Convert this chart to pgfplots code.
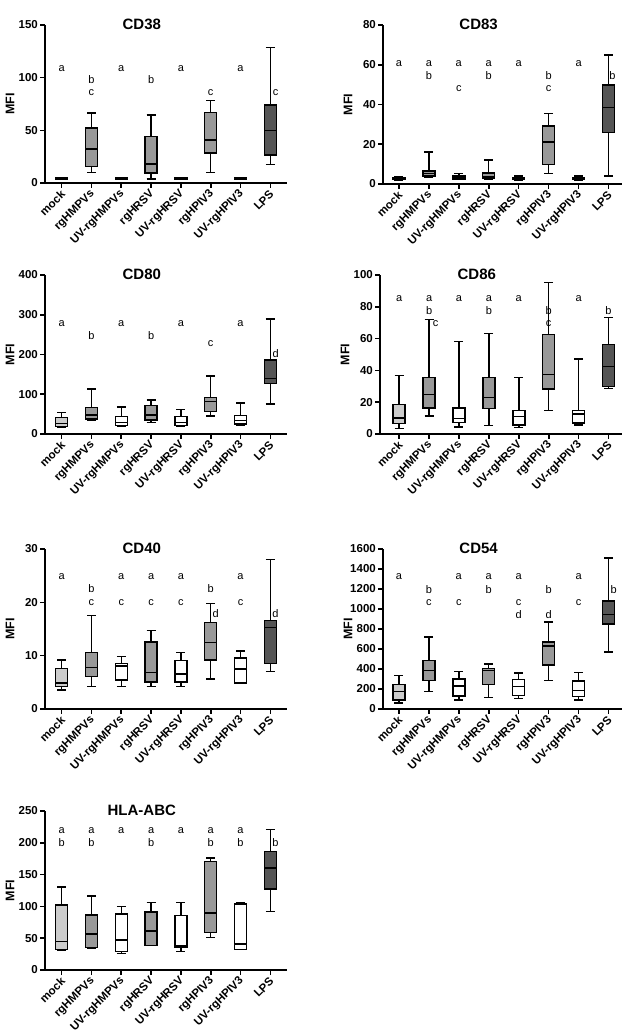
\documentclass[border=0pt]{standalone}
\usepackage{pgfplots}
\pgfplotsset{compat=1.18}
\usepgfplotslibrary{statistics}
\usepackage{fontspec}
\setmainfont{Liberation Sans}
\definecolor{mockc}{HTML}{CCCCCC}
\definecolor{rgc}{HTML}{999999}
\definecolor{uvc}{HTML}{FFFFFF}
\definecolor{lpsc}{HTML}{555555}
\tikzset{lett/.style={font=\fontsize{11}{12}\selectfont, inner sep=0pt, anchor=center}}
\pgfplotsset{
  panel/.style={
    scale only axis,
    axis lines=left,
    axis line style={-, line width=1.6pt},
    anchor=south west,
    xmin=-0.56, xmax=7.56,
    xtick={0,...,7},
    xticklabels={mock,rgHMPVs,UV-rgHMPVs,rgHRSV,UV-rgHRSV,rgHPIV3,UV-rgHPIV3,LPS},
    xticklabel style={rotate=45, anchor=east, font=\bfseries\fontsize{11.5}{12}\selectfont, inner sep=1pt, yshift=-4pt, xshift=-1pt},
    /pgf/number format/assume math mode=true,
    /pgf/number format/1000 sep={},
    yticklabel={\bfseries\pgfmathprintnumber{\tick}},
    yticklabel style={font=\bfseries\fontsize{11.5}{12}\selectfont, inner sep=2pt},
    scaled y ticks=false,
    tick align=outside,
    major tick length=5pt,
    tick style={line width=1.6pt, black},
    ylabel={MFI},
    ylabel style={at={([xshift=-35pt]axis description cs:0,0.5)}, anchor=center, font=\bfseries\fontsize{12.5}{13}\selectfont},
    title style={at={(axis description cs:0.4,1)}, anchor=center, yshift=-5pt, font=\bfseries\fontsize{15}{16}\selectfont},
    boxplot/draw direction=y,
    boxplot/box extend=0.4,
    boxplot/whisker extend=0.3,
    clip=false,
  },
  mockb/.style={draw=black, line width=1.5pt, fill=mockc},
  rgb/.style={draw=black, line width=1.5pt, fill=rgc},
  uvb/.style={draw=black, line width=1.5pt, fill=uvc},
  lpsb/.style={draw=black, line width=1.5pt, fill=lpsc},
}
\newcommand{\bx}[7]{\addplot[#7, boxplot prepared={draw position=#1, lower whisker=#2, lower quartile=#3, median=#4, upper quartile=#5, upper whisker=#6}] coordinates {};}
\newcommand{\lt}[3]{\node[lett] at (axis cs:#1,#2) {#3};}
\begin{document}
\begin{tikzpicture}[x=1pt,y=1pt]
\useasboundingbox (0,0) rectangle (634,1035);
% ---------- CD38
\begin{axis}[panel, at={(45pt,852pt)}, width=242pt, height=158pt, ymin=0, ymax=150, ytick={0,50,100,150}, title={CD38}]
\bx{0}{3.2}{3.6}{4.1}{4.6}{5.2}{mockb}
\bx{1}{10.1}{15.8}{32.5}{52.1}{66.3}{rgb}
\bx{2}{3.2}{3.6}{4.1}{4.6}{5.2}{uvb}
\bx{3}{3.8}{9.5}{18}{43.9}{64.7}{rgb}
\bx{4}{3.2}{3.6}{4.1}{4.6}{5.2}{uvb}
\bx{5}{10.1}{28.4}{40.7}{66.9}{78.3}{rgb}
\bx{6}{3.2}{3.6}{4.1}{4.6}{5.2}{uvb}
\bx{7}{17.4}{26.8}{49.9}{74.2}{128.5}{lpsb}
\lt{0}{109}{a}
\lt{1}{98}{b}\lt{1}{86}{c}
\lt{2}{109}{a}
\lt{3}{98}{b}
\lt{4}{109}{a}
\lt{5}{86}{c}
\lt{6}{109}{a}
\lt{7.18}{86}{c}
\end{axis}
% ---------- CD83
\begin{axis}[panel, at={(383pt,851pt)}, width=239pt, height=159pt, xmin=-0.53, xmax=7.45, ymin=0, ymax=80, ytick={0,20,40,60,80}, title={CD83}]
\bx{0}{2.0}{2.3}{2.8}{3.3}{3.8}{mockb}
\bx{1}{3.4}{3.9}{5.2}{6.6}{16.1}{rgb}
\bx{2}{2.2}{2.4}{3.0}{3.9}{5.2}{uvb}
\bx{3}{2.4}{2.7}{3.5}{5.5}{12.1}{rgb}
\bx{4}{2.0}{2.3}{2.8}{3.3}{3.9}{uvb}
\bx{5}{5.2}{9.7}{21}{29.1}{35.5}{rgb}
\bx{6}{2.0}{2.3}{2.8}{3.3}{4.0}{uvb}
\bx{7}{4}{26}{38.5}{49.9}{64.9}{lpsb}
\lt{0}{60.7}{a}
\lt{1}{60.7}{a}\lt{1}{54.3}{b}
\lt{2}{60.7}{a}\lt{2}{47.9}{c}
\lt{3}{60.7}{a}\lt{3}{54.3}{b}
\lt{4}{60.7}{a}
\lt{5}{54.3}{b}\lt{5}{47.9}{c}
\lt{6}{60.7}{a}
\lt{7.13}{54.3}{b}
\end{axis}
% ---------- CD80
\begin{axis}[panel, at={(45pt,601pt)}, width=242pt, height=159pt, ymin=0, ymax=400, ytick={0,100,200,300,400}, title={CD80}]
\bx{0}{16.8}{19.3}{26}{41.9}{53.7}{mockb}
\bx{1}{35.2}{37.7}{47.8}{67}{113}{rgb}
\bx{2}{19.3}{21.8}{28.5}{44.4}{68}{uvb}
\bx{3}{29.4}{35.2}{47.8}{72.1}{85.5}{rgb}
\bx{4}{18.4}{21}{28.5}{43.6}{62}{uvb}
\bx{5}{45.3}{56.2}{81.3}{92.2}{146}{rgb}
\bx{6}{21}{25.2}{33.5}{47}{78}{uvb}
\bx{7}{75.5}{127.5}{140}{186.2}{289.3}{lpsb}
\lt{0}{278.4}{a}
\lt{1}{246.5}{b}
\lt{2}{278.4}{a}
\lt{3}{246.5}{b}
\lt{4}{278.4}{a}
\lt{5}{226.4}{c}
\lt{6}{278.4}{a}
\lt{7.18}{201.3}{d}
\end{axis}
% ---------- CD86
\begin{axis}[panel, at={(380pt,601pt)}, width=242pt, height=159pt, xmin=-0.64, xmax=7.45, ymin=0, ymax=100, ytick={0,20,40,60,80,100}, title={CD86}]
\bx{0}{3.4}{6.5}{10.1}{18.4}{36.7}{mockb}
\bx{1}{11.3}{16.4}{24.7}{35.6}{71.9}{rgb}
\bx{2}{4.4}{7.1}{9.6}{16.4}{58.3}{uvb}
\bx{3}{5.2}{15.9}{23.1}{35.6}{63.3}{rgb}
\bx{4}{4}{5.5}{11.1}{14.7}{35.4}{uvb}
\bx{5}{14.9}{28.3}{37.5}{62.5}{95.2}{rgb}
\bx{6}{5.5}{6.9}{12.6}{14.7}{47.2}{uvb}
\bx{7}{28.5}{29.8}{42.6}{56.4}{73.4}{lpsb}
\lt{0}{85.3}{a}
\lt{1}{85.3}{a}\lt{1}{77.6}{b}\lt{1.22}{69.6}{c}
\lt{2}{85.3}{a}
\lt{3}{85.3}{a}\lt{3}{77.6}{b}
\lt{4}{85.3}{a}
\lt{5}{77.6}{b}\lt{5}{69.6}{c}
\lt{6}{85.3}{a}
\lt{7}{77.6}{b}
\end{axis}
% ---------- CD40
\begin{axis}[panel, at={(45pt,326pt)}, width=242pt, height=160pt, ymin=0, ymax=30, ytick={0,10,20,30}, title={CD40}]
\bx{0}{3.6}{4.2}{4.9}{7.6}{9.2}{mockb}
\bx{1}{4.2}{6.1}{7.8}{10.6}{17.5}{rgb}
\bx{2}{4.2}{5.4}{8.1}{8.5}{9.8}{uvb}
\bx{3}{4.2}{5.1}{6.8}{12.6}{14.7}{rgb}
\bx{4}{4.2}{5.1}{6.6}{9.1}{10.6}{uvb}
\bx{5}{5.6}{9.2}{12.5}{16.2}{19.8}{rgb}
\bx{6}{4.8}{4.9}{7.5}{9.6}{10.9}{uvb}
\bx{7}{7.0}{8.5}{15.3}{16.6}{28}{lpsb}
\lt{0}{24.9}{a}
\lt{1}{22.5}{b}\lt{1}{20.0}{c}
\lt{2}{24.9}{a}\lt{2}{20.0}{c}
\lt{3}{24.9}{a}\lt{3}{20.0}{c}
\lt{4}{24.9}{a}\lt{4}{20.0}{c}
\lt{5}{22.5}{b}\lt{5.17}{17.8}{d}
\lt{6}{24.9}{a}\lt{6}{20.0}{c}
\lt{7.17}{17.8}{d}
\end{axis}
% ---------- CD54
\begin{axis}[panel, at={(383pt,326pt)}, width=239pt, height=160pt, xmin=-0.53, xmax=7.45, ymin=0, ymax=1600, ytick={0,200,...,1600}, title={CD54}]
\bx{0}{60}{90}{174}{247}{334}{mockb}
\bx{1}{174}{284}{384}{484}{718}{rgb}
\bx{2}{90}{130}{230}{301}{374}{uvb}
\bx{3}{117}{244}{384}{404}{448}{rgb}
\bx{4}{107}{134}{224}{297}{361}{uvb}
\bx{5}{284}{441}{631}{671}{868}{rgb}
\bx{6}{90}{124}{187}{281}{364}{uvb}
\bx{7}{571}{848}{945}{1082}{1510}{lpsb}
\lt{0}{1319}{a}
\lt{1}{1196}{b}\lt{1}{1065}{c}
\lt{2}{1319}{a}\lt{2}{1065}{c}
\lt{3}{1319}{a}\lt{3}{1196}{b}
\lt{4}{1319}{a}\lt{4}{1065}{c}\lt{4}{942}{d}
\lt{5}{1196}{b}\lt{5}{942}{d}
\lt{6}{1319}{a}\lt{6}{1065}{c}
\lt{7.17}{1196}{b}
\end{axis}
% ---------- HLA-ABC
\begin{axis}[panel, at={(45pt,65pt)}, width=242pt, height=159pt, ymin=0, ymax=250, ytick={0,50,...,250}, title={HLA-ABC}]
\bx{0}{30.9}{32.4}{44.5}{102.5}{130.8}{mockb}
\bx{1}{34}{35}{56.5}{86.3}{116}{rgb}
\bx{2}{26.2}{28.8}{47.1}{88.4}{99.9}{uvb}
\bx{3}{38.2}{38.2}{61.7}{91.5}{106.2}{rgb}
\bx{4}{28.8}{35.6}{37.7}{85.3}{106.2}{uvb}
\bx{5}{51.3}{58.6}{90}{170.5}{176.3}{rgb}
\bx{6}{32.4}{32.4}{40.8}{103.6}{105.6}{uvb}
\bx{7}{92}{127.6}{160}{186.7}{220.7}{lpsb}
\lt{0}{219.7}{a}\lt{0}{199.8}{b}
\lt{1}{219.7}{a}\lt{1}{199.8}{b}
\lt{2}{219.7}{a}
\lt{3}{219.7}{a}\lt{3}{199.8}{b}
\lt{4}{219.7}{a}
\lt{5}{219.7}{a}\lt{5}{199.8}{b}
\lt{6}{219.7}{a}\lt{6}{199.8}{b}
\lt{7.17}{199.8}{b}
\end{axis}
\end{tikzpicture}
\end{document}
